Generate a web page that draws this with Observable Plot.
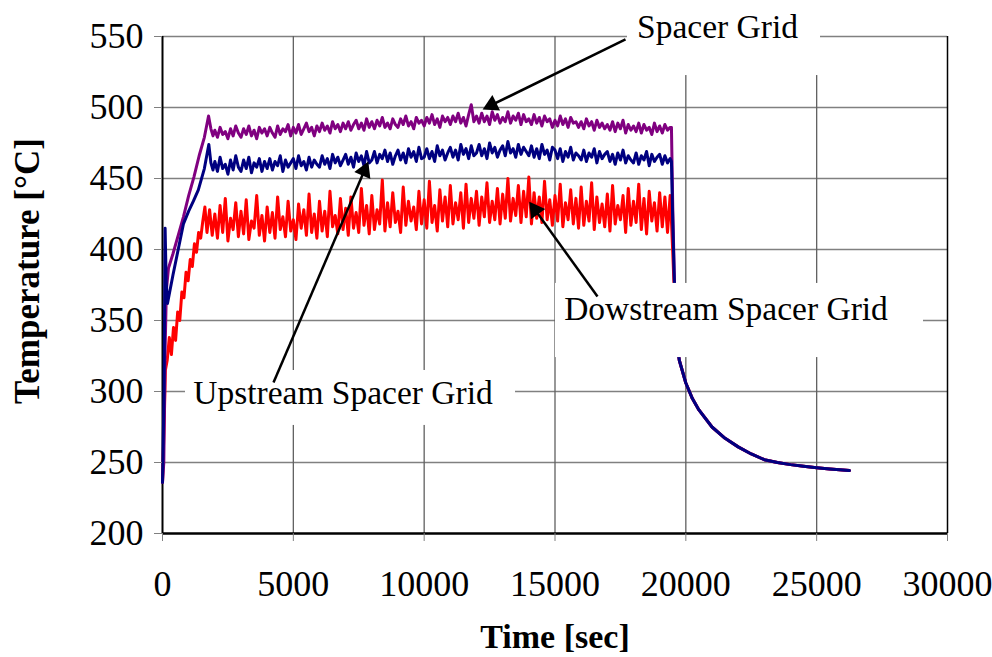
<!DOCTYPE html>
<html>
<head>
<meta charset="utf-8">
<script src="https://cdn.jsdelivr.net/npm/d3@7"></script>
<script src="https://cdn.jsdelivr.net/npm/@observablehq/plot@0.6"></script>
<style>
  html, body { margin: 0; padding: 0; background: white; }
</style>
</head>
<body>
<div id="chart"></div>
<script>
// ---- Axis ticks ----
const xTicks = [0, 5000, 10000, 15000, 20000, 25000, 30000];
const yTicks = [200, 250, 300, 350, 400, 450, 500, 550];

// ---- Heat-up ramps (time [sec], temperature [°C]) ----
const rampTimePurple = [0, 50, 100, 150, 230, 400, 600, 800, 1000, 1200, 1400, 1600, 1760, 1850, 1930];
const rampTempPurple = [236, 250, 330, 372, 387, 397, 410, 423, 438, 451, 466, 479, 494, 485, 480];

const rampTimeBlue = [0, 60, 100, 140, 190, 400, 600, 800, 1000, 1180, 1370, 1600, 1770, 1850, 1930];
const rampTempBlue = [236, 300, 415, 378, 362, 382, 400, 418, 427, 434, 442, 457, 474, 461, 456];

const rampTimeRed = [0, 80, 110, 180, 260, 340, 420, 500, 580, 660, 740, 820, 900, 980, 1060, 1140, 1220, 1300, 1380, 1460, 1540, 1620, 1700, 1800, 1900];
const rampTempRed = [236, 290, 315, 322, 338, 326, 345, 336, 356, 350, 370, 366, 384, 378, 393, 388, 404, 398, 412, 408, 420, 430, 412, 428, 410];

// ---- Plateau (shared time samples, every 100 s) ----
const plateauTime = [
  2000, 2100, 2200, 2300, 2400, 2500, 2600, 2700, 2800, 2900,
  3000, 3100, 3200, 3300, 3400, 3500, 3600, 3700, 3800, 3900,
  4000, 4100, 4200, 4300, 4400, 4500, 4600, 4700, 4800, 4900,
  5000, 5100, 5200, 5300, 5400, 5500, 5600, 5700, 5800, 5900,
  6000, 6100, 6200, 6300, 6400, 6500, 6600, 6700, 6800, 6900,
  7000, 7100, 7200, 7300, 7400, 7500, 7600, 7700, 7800, 7900,
  8000, 8100, 8200, 8300, 8400, 8500, 8600, 8700, 8800, 8900,
  9000, 9100, 9200, 9300, 9400, 9500, 9600, 9700, 9800, 9900,
  10000, 10100, 10200, 10300, 10400, 10500, 10600, 10700, 10800, 10900,
  11000, 11100, 11200, 11300, 11400, 11500, 11600, 11700, 11800, 11900,
  12000, 12100, 12200, 12300, 12400, 12500, 12600, 12700, 12800, 12900,
  13000, 13100, 13200, 13300, 13400, 13500, 13600, 13700, 13800, 13900,
  14000, 14100, 14200, 14300, 14400, 14500, 14600, 14700, 14800, 14900,
  15000, 15100, 15200, 15300, 15400, 15500, 15600, 15700, 15800, 15900,
  16000, 16100, 16200, 16300, 16400, 16500, 16600, 16700, 16800, 16900,
  17000, 17100, 17200, 17300, 17400, 17500, 17600, 17700, 17800, 17900,
  18000, 18100, 18200, 18300, 18400, 18500, 18600, 18700, 18800, 18900,
  19000, 19100, 19200, 19300, 19400
];
const plateauPurple = [
  484, 479, 486, 481, 483, 478, 485, 480, 487, 482,
  479, 485, 481, 487, 480, 484, 478, 486, 482, 485,
  480, 486, 482, 479, 487, 481, 485, 483, 488, 480,
  486, 482, 488, 481, 485, 489, 483, 486, 480, 487,
  483, 489, 484, 487, 482, 490, 485, 488, 483, 489,
  485, 490, 484, 488, 491, 485, 489, 484, 492, 486,
  490, 485, 491, 487, 493, 486, 489, 485, 492, 488,
  486, 492, 488, 494, 487, 490, 485, 493, 489, 491,
  487, 493, 489, 495, 488, 492, 486, 494, 490, 493,
  488, 494, 490, 496, 489, 493, 487, 495, 502, 490,
  494, 489, 496, 490, 494, 488, 497, 491, 495, 489,
  493, 490, 497, 489, 494, 491, 496, 488, 495, 490,
  492, 488, 495, 489, 493, 487, 494, 490, 492, 486,
  491, 487, 494, 488, 492, 486, 493, 489, 490, 486,
  490, 485, 492, 487, 490, 484, 491, 486, 489, 485,
  488, 484, 490, 483, 489, 485, 491, 482, 488, 484,
  487, 483, 489, 482, 488, 484, 486, 481, 489, 483,
  487, 482, 488, 484, 486
];
const plateauBlue = [
  462, 455, 465, 457, 460, 453, 463, 456, 466, 458,
  455, 463, 457, 465, 454, 461, 458, 464, 455, 462,
  457, 464, 456, 462, 459, 466, 455, 463, 458, 461,
  464, 457, 466, 459, 462, 456, 465, 458, 463, 460,
  458, 466, 460, 464, 457, 467, 461, 465, 459, 463,
  467, 460, 465, 458, 468, 462, 466, 459, 469, 461,
  463, 469, 461, 467, 464, 470, 462, 468, 460, 466,
  470, 463, 468, 461, 471, 465, 469, 462, 472, 464,
  465, 471, 464, 469, 462, 473, 466, 470, 463, 468,
  472, 465, 470, 463, 474, 467, 471, 464, 473, 466,
  468, 474, 466, 471, 464, 475, 468, 472, 465, 470,
  473, 466, 476, 468, 471, 465, 474, 467, 472, 469,
  466, 473, 465, 471, 464, 474, 467, 470, 463, 472,
  470, 464, 471, 462, 469, 465, 472, 463, 468, 466,
  463, 470, 462, 468, 465, 471, 461, 469, 464, 467,
  469, 462, 467, 460, 468, 463, 470, 461, 466, 463,
  461, 468, 460, 466, 463, 469, 459, 467, 462, 465,
  467, 460, 466, 461, 464
];
const plateauRed = [
  425, 408, 431, 412, 436, 406, 422, 414, 433, 409,
  427, 411, 435, 407, 420, 415, 438, 410, 424, 406,
  430, 412, 426, 408, 437, 414, 423, 409, 434, 413,
  421, 407, 432, 415, 428, 410, 439, 412, 425, 408,
  434, 413, 427, 409, 441, 416, 424, 411, 436, 414,
  429, 410, 437, 415, 426, 412, 443, 417, 431, 411,
  438, 414, 428, 418, 449, 413, 433, 416, 440, 419,
  427, 412, 444, 417, 434, 420, 430, 414, 441, 418,
  435, 415, 448, 419, 431, 413, 442, 420, 437, 416,
  445, 418, 433, 421, 440, 415, 446, 419, 436, 422,
  441, 417, 437, 423, 447, 419, 434, 421, 443, 418,
  439, 422, 450, 420, 436, 424, 445, 419, 441, 423,
  451, 418, 440, 422, 437, 419, 448, 421, 435, 417,
  438, 420, 446, 416, 433, 421, 442, 418, 436, 415,
  444, 417, 434, 420, 447, 414, 437, 419, 432, 416,
  439, 413, 445, 418, 431, 421, 438, 412, 443, 417,
  434, 419, 446, 414, 436, 411, 441, 420, 433, 413,
  440, 416, 437, 412, 438
];

// ---- Shutdown drop ----
const dropTime = [19450, 19500, 19560];
const dropPurple = [486, 430, 380];
const dropBlue = [462, 420, 378];
const dropRed = [420, 398, 370];

// ---- Cool-down (all three sensors coincide) ----
const coolTime = [19650, 19750, 20000, 20250, 20500, 21000, 21500, 22000, 22500, 23000, 23500, 24000, 24500, 25000, 25500, 26000, 26250];
const coolTemp = [336, 322, 306, 295, 287, 275, 267, 261, 256, 252, 250, 248.5, 247.3, 246.3, 245.5, 244.8, 244.3];

// ---- Annotations ----
const labelText = ["Spacer Grid", "Upstream Spacer Grid", "Dowstream Spacer Grid"];
const labelX = [21210, 6898, 21535];
const labelY = [556.3, 298.9, 358.2];
const boxX1 = [17771, 879, 15019];
const boxX2 = [25147, 13491, 29083];
const boxY1 = [522.5, 276.1, 323.9];
const boxY2 = [575.4, 314.8, 376.1];
const arrowX1 = [17694, 4242, 16624];
const arrowY1 = [547.9, 306.3, 366.9];
const arrowX2 = [12306, 7834, 14064];
const arrowY2 = [499.3, 460.6, 432.4];

// ---- Build tables ----
function build(rt, rv, pv, dv) {
  const out = [];
  rt.forEach((t, i) => out.push({t, v: rv[i]}));
  plateauTime.forEach((t, i) => out.push({t, v: pv[i]}));
  dropTime.forEach((t, i) => out.push({t, v: dv[i]}));
  coolTime.forEach((t, i) => out.push({t, v: coolTemp[i]}));
  return out;
}
const redData = build(rampTimeRed, rampTempRed, plateauRed, dropRed);
const purpleData = build(rampTimePurple, rampTempPurple, plateauPurple, dropPurple);
const blueData = build(rampTimeBlue, rampTempBlue, plateauBlue, dropBlue);

const labels = labelText.map((text, i) => ({text, x: labelX[i], y: labelY[i]}));
const boxes = boxX1.map((x1, i) => ({x1, x2: boxX2[i], y1: boxY1[i], y2: boxY2[i]}));
const arrows = arrowX1.map((x1, i) => ({x1, y1: arrowY1[i], x2: arrowX2[i], y2: arrowY2[i]}));

const dims = {
  width: 992, height: 657,
  marginLeft: 162, marginRight: 45, marginTop: 36, marginBottom: 124,
  x: {domain: [0, 30000]},
  y: {domain: [200, 550]}
};

// Probe the scales so filled arrowheads can be oriented in screen space
const probe = Plot.plot({...dims, marks: [Plot.ruleX([0])]});
const sx = probe.scale("x"), sy = probe.scale("y");
const HEAD_BACK = 8;
const heads = arrows.map(a => {
  const X1 = sx.apply(a.x1), Y1 = sy.apply(a.y1), X2 = sx.apply(a.x2), Y2 = sy.apply(a.y2);
  const len = Math.hypot(X2 - X1, Y2 - Y1);
  const ux = (X2 - X1) / len, uy = (Y2 - Y1) / len;
  return {
    x1: a.x1, y1: a.y1,
    x: sx.invert(X2 - ux * HEAD_BACK),
    y: sy.invert(Y2 - uy * HEAD_BACK),
    angle: Math.atan2(ux, -uy) * 180 / Math.PI
  };
});

const chart = Plot.plot({
  ...dims,
  style: {
    fontFamily: "'Liberation Serif', 'Times New Roman', serif",
    fontSize: "34px",
    background: "white",
    color: "black"
  },
  marks: [
    // gridlines
    Plot.ruleY(yTicks.filter(d => d > 200), {stroke: "#808080", strokeWidth: 1.5}),
    Plot.ruleX(xTicks.filter(d => d > 0 && d < 30000), {stroke: "#606060", strokeWidth: 1.3}),
    // frame
    Plot.ruleX([30000], {stroke: "black", strokeWidth: 1.5}),
    Plot.ruleX([0], {stroke: "black", strokeWidth: 2}),
    Plot.ruleY([200], {stroke: "black", strokeWidth: 2.5}),
    // data
    Plot.line(redData, {x: "t", y: "v", stroke: "#ff0000", strokeWidth: 3, curve: "linear"}),
    Plot.line(purpleData, {x: "t", y: "v", stroke: "#800080", strokeWidth: 3, curve: "linear"}),
    Plot.line(blueData, {x: "t", y: "v", stroke: "#000080", strokeWidth: 3, curve: "linear"}),
    // annotation boxes, arrows, labels
    Plot.rect(boxes, {x1: "x1", x2: "x2", y1: "y1", y2: "y2", fill: "white"}),
    Plot.link(heads, {x1: "x1", y1: "y1", x2: "x", y2: "y", stroke: "black", strokeWidth: 2.5}),
    Plot.dot(heads, {x: "x", y: "y", symbol: "triangle", r: 6.5, rotate: "angle", fill: "black", stroke: "none"}),
    Plot.text(labels, {x: "x", y: "y", text: "text", fontSize: 33.5, textAnchor: "middle", lineAnchor: "middle", fill: "black"}),
    // axes
    Plot.axisX(xTicks, {tickSize: 8, tickPadding: 29, stroke: "#808080", fill: "black", fontSize: 36, label: null, tickFormat: d => String(d)}),
    Plot.axisY(yTicks, {tickSize: 8, tickPadding: 11, stroke: "#808080", fill: "black", fontSize: 36, label: null, tickFormat: d => String(d)}),
    // axis titles
    Plot.text(["Time [sec]"], {frameAnchor: "bottom", dy: 104, textAnchor: "middle", lineAnchor: "middle", fontWeight: "bold", fontSize: 34, fill: "black"}),
    Plot.text(["Temperature [°C]"], {frameAnchor: "left", dx: -135, dy: -14, rotate: -90, textAnchor: "middle", lineAnchor: "middle", fontWeight: "bold", fontSize: 35, fill: "black"})
  ]
});
document.getElementById("chart").appendChild(chart);
</script>
</body>
</html>
